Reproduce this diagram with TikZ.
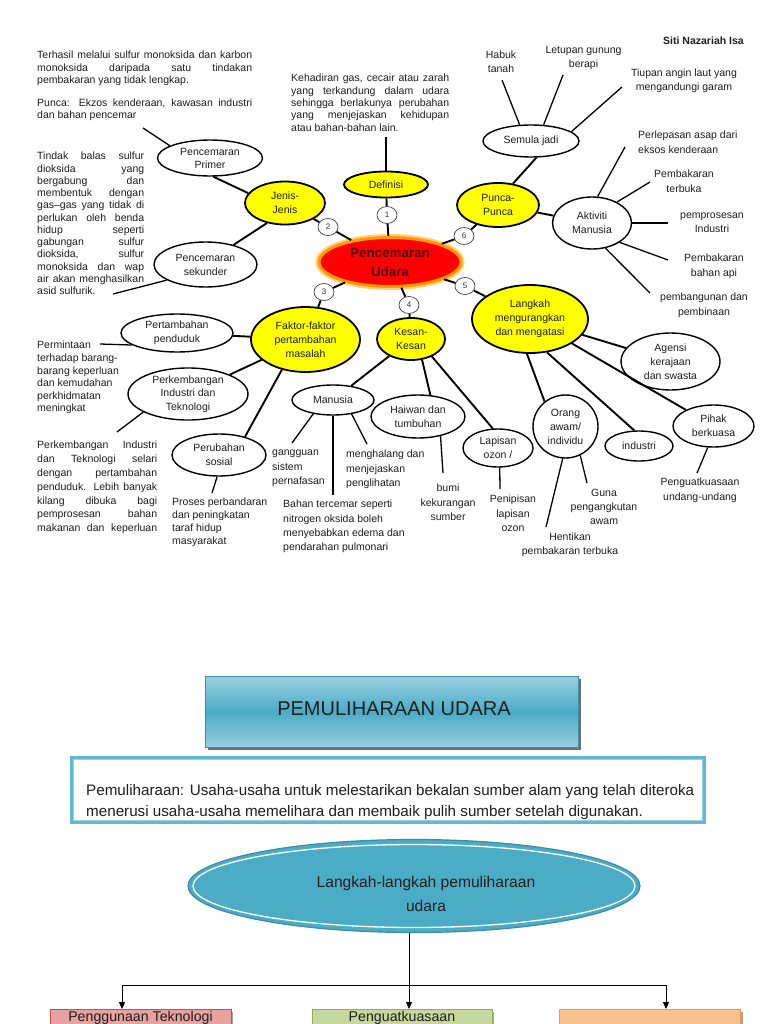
\documentclass[tikz,border=0pt]{standalone}
\usepackage{fontspec}
\setmainfont{Liberation Sans}
\usetikzlibrary{shapes.geometric,arrows.meta,shadows}
\definecolor{ylw}{HTML}{FFFF00}
\definecolor{glow}{HTML}{FFD27A}
\definecolor{orng}{HTML}{FF9A00}
\definecolor{ctext}{HTML}{4A0808}
\definecolor{tealA}{HTML}{4BACC6}
\definecolor{tealL}{HTML}{98D0E0}
\definecolor{tealD}{HTML}{3A8DA6}
\definecolor{tealB}{HTML}{62B8D0}
\definecolor{redF}{HTML}{E8A3A1}
\definecolor{redD}{HTML}{C0504D}
\definecolor{grnF}{HTML}{C5D89D}
\definecolor{grnD}{HTML}{8FB04E}
\definecolor{orF}{HTML}{FAC08F}
\definecolor{orD}{HTML}{F79646}
\definecolor{ink}{HTML}{1E1E1E}
\newcommand{\jl}[2]{\makebox[#1][s]{#2}}
\newcommand{\fl}{\rule{0pt}{7.6pt}}
\newcommand{\flb}{\rule{0pt}{10.8pt}}
\begin{document}
\begin{tikzpicture}[x=1pt,y=-1pt,
 yel/.style={ellipse,draw=black,line width=1.8pt,fill=ylw,inner sep=0pt,align=center,text=ink,font=\fontsize{10.5}{14}\selectfont},
 wht/.style={ellipse,draw=black,line width=1.4pt,fill=white,inner sep=0pt,align=center,text=ink,font=\fontsize{10.5}{14}\selectfont},
 cen/.style={ellipse,fill=red,draw=orng,line width=3pt,preaction={draw=glow,line width=7pt},minimum width=142pt,minimum height=49pt,inner sep=0pt,align=center,text=ctext,font=\bfseries\fontsize{13.4}{19}\selectfont},
 badge/.style={ellipse,draw=black!75,line width=0.7pt,fill=white,minimum width=20pt,minimum height=17pt,inner sep=0pt,font=\fontsize{8}{9}\selectfont,text=black!80},
 conn/.style={line width=1.9pt},
 tconn/.style={line width=1.3pt},
 txt/.style={inner sep=0pt,anchor=north west,align=left,text=ink},
 ctxt/.style={inner sep=0pt,anchor=north,align=center,text=ink},
 arr/.style={line width=0.9pt,-{Triangle[length=7pt,width=6pt]}},
 bbox/.style={inner sep=0pt,minimum height=40pt,anchor=north,line width=1pt,drop shadow={shadow xshift=2pt,shadow yshift=-2pt,fill=black!35,opacity=1}},
 btxt/.style={inner sep=0pt,anchor=north,font=\fontsize{14.2}{17}\selectfont,text=ink},
]
\useasboundingbox (0,0) rectangle (768,1024);
\clip (0,0) rectangle (768,1024);
\fill[white] (0,0) rectangle (768,1024);

% ---------- header ----------
\node[inner sep=0pt,anchor=north,text=ink,font=\bfseries\fontsize{10.5}{12}\selectfont] (author) at (703.5,37) {\fl Siti Nazariah Isa};

% ---------- main nodes ----------
\node[cen] (center) at (390,262) {Pencemaran\\Udara};
\node[yel,minimum width=84pt,minimum height=26pt] (defn) at (386,184.5) {Definisi};
\node[yel,minimum width=80pt,minimum height=43pt] (jenis) at (285,203) {Jenis-\\Jenis};
\node[yel,minimum width=82pt,minimum height=44pt] (punca) at (498,205) {Punca-\\Punca};
\node[yel,minimum width=109pt,minimum height=65pt] (faktor) at (305.5,339.5) {Faktor-faktor\\pertambahan\\masalah};
\node[yel,minimum width=68pt,minimum height=42pt] (kesan) at (411,339) {Kesan-\\Kesan};
\node[yel,minimum width=116pt,minimum height=68pt] (langkah) at (530,319) {Langkah\\mengurangkan\\dan mengatasi};

\node[wht,minimum width=105pt,minimum height=36pt,font=\fontsize{10.5}{13}\selectfont] (primer) at (210,158) {Pencemaran\\Primer};
\node[wht,minimum width=103pt,minimum height=45pt] (sekunder) at (205.5,264.5) {Pencemaran\\sekunder};
\node[wht,minimum width=96pt,minimum height=32pt] (semula) at (531,141) {Semula jadi};
\node[wht,minimum width=79pt,minimum height=52pt] (aktiviti) at (592,223) {Aktiviti\\Manusia};
\node[wht,minimum width=112pt,minimum height=38pt] (pertambahan) at (177,333) {Pertambahan\\penduduk};
\node[wht,minimum width=120pt,minimum height=46pt,font=\fontsize{10.5}{13.5}\selectfont] (perkembangan) at (188,394) {Perkembangan\\Industri dan\\Teknologi};
\node[wht,minimum width=94pt,minimum height=42pt] (perubahan) at (219,455) {Perubahan\\sosial};
\node[wht,minimum width=82pt,minimum height=30pt] (manusia) at (333,400) {Manusia};
\node[wht,minimum width=94pt,minimum height=43pt] (haiwan) at (418,416.5) {Haiwan dan\\tumbuhan};
\node[wht,minimum width=70pt,minimum height=38pt] (lapisan) at (498,448) {Lapisan\\ozon /};
\node[wht,minimum width=65pt,minimum height=63pt] (orang) at (565.5,426.5) {Orang\\awam/\\individu};
\node[wht,minimum width=68pt,minimum height=30pt] (industri) at (639,446) {industri};
\node[wht,minimum width=81pt,minimum height=42pt] (pihak) at (713.5,426) {Pihak\\berkuasa};
\node[wht,minimum width=99pt,minimum height=57pt] (agensi) at (670.5,361.5) {Agensi\\kerajaan\\dan swasta};

\node[badge] (b1) at (387,215) {1};
\node[badge] (b2) at (328,227) {2};
\node[badge] (b3) at (324,292) {3};
\node[badge] (b4) at (409,305) {4};
\node[badge] (b5) at (465,286) {5};
\node[badge] (b6) at (464,236) {6};

% ---------- main connectors ----------
\draw[conn] (defn) -- (b1); \draw[conn] (b1) -- (center);
\draw[conn] (jenis) -- (b2); \draw[conn] (b2) -- (center);
\draw[conn] (faktor) -- (b3); \draw[conn] (b3) -- (center);
\draw[conn] (kesan) -- (b4); \draw[conn] (b4) -- (center);
\draw[conn] (langkah) -- (b5); \draw[conn] (b5) -- (center);
\draw[conn] (punca) -- (b6); \draw[conn] (b6) -- (center);

\draw[conn] (primer.-80) -- (jenis.165);
\draw[conn] (sekunder.35) -- (jenis.228);
\draw[conn] (semula.-72) -- (punca.55);
\draw[conn] (punca) -- (aktiviti);
\draw[conn] (faktor) -- (pertambahan);
\draw[conn] (faktor) -- (perkembangan);
\draw[conn] (faktor.232) -- (perubahan.35);
\draw[conn] (kesan) -- (manusia);
\draw[conn] (kesan.-62) -- (haiwan.60);
\draw[conn] (kesan.-40) -- (lapisan.105);
\draw[conn] (langkah) -- (agensi);
\draw[conn] (langkah.265) -- (orang.130);
\draw[conn] (langkah.-63) -- (industri.107);
\draw[conn] (langkah) -- (pihak);

% ---------- free ends of text connectors ----------
\coordinate (dE) at (386,137);
\coordinate (habukE) at (502,80);
\coordinate (letupanE) at (563,75);
\coordinate (tiupanE) at (622,87);
\coordinate (a1E) at (625,147);
\coordinate (a2E) at (650,182);
\coordinate (a3E) at (668,223);
\coordinate (a4E) at (668,260);
\coordinate (a5E) at (650,293);
\coordinate (p1E) at (143,128);
\coordinate (s1E) at (113,294);
\coordinate (ptE) at (100,344);
\coordinate (pkE) at (117,432);
\coordinate (puE) at (212,493);
\coordinate (m1E) at (292,443);
\coordinate (m2E) at (333,495);
\coordinate (m3E) at (367,444);
\coordinate (hE) at (443,473);
\coordinate (lE) at (500,489);
\coordinate (o1E) at (546,527);
\coordinate (o2E) at (587,483);
\coordinate (pkhE) at (697,473);

\draw[tconn] (defn) -- (dE);
\draw[tconn] (semula.125) -- (habukE);
\draw[tconn] (semula.52) -- (letupanE);
\draw[tconn] (semula.13) -- (tiupanE);
\draw[tconn] (aktiviti.78) -- (a1E);
\draw[tconn] (aktiviti.40) -- (a2E);
\draw[tconn] (aktiviti.east) -- (a3E);
\draw[tconn] (aktiviti.-35) -- (a4E);
\draw[tconn] (aktiviti.-62) -- (a5E);
\draw[tconn] (primer.163) -- (p1E);
\draw[tconn] (sekunder.202) -- (s1E);
\draw[tconn] (pertambahan.195) -- (ptE);
\draw[tconn] (perkembangan.202) -- (pkE);
\draw[tconn] (perubahan.-95) -- (puE);
\draw[tconn] (manusia.215) -- (m1E);
\draw[tconn] (manusia.south) -- (m2E);
\draw[tconn] (manusia.-37) -- (m3E);
\draw[tconn] (haiwan.-41) -- (hE);
\draw[tconn] (lapisan.-85) -- (lE);
\draw[tconn] (orang.-95) -- (o1E);
\draw[tconn] (orang.-63) -- (o2E);
\draw[tconn] (pihak.-105) -- (pkhE);

% ---------- text blocks ----------
\node[txt,font=\fontsize{10.5}{12.5}\selectfont] (t1) at (37,51) {\fl\jl{215pt}{Terhasil melalui sulfur monoksida dan karbon}\\\jl{215pt}{monoksida daripada satu tindakan}\\pembakaran yang tidak lengkap.\\[10pt]\jl{215pt}{Punca: Ekzos kenderaan, kawasan industri}\\dan bahan pencemar};

\node[txt,font=\fontsize{10.5}{12.27}\selectfont] (t2) at (37,152) {\fl\jl{107pt}{Tindak balas sulfur}\\\jl{107pt}{dioksida yang}\\\jl{107pt}{bergabung dan}\\\jl{107pt}{membentuk dengan}\\\jl{107pt}{gas–gas yang tidak di}\\\jl{107pt}{perlukan oleh benda}\\\jl{107pt}{hidup seperti}\\\jl{107pt}{gabungan sulfur}\\\jl{107pt}{dioksida, sulfur}\\\jl{107pt}{monoksida dan wap}\\\jl{107pt}{air akan menghasilkan}\\asid sulfurik.};

\node[txt,font=\fontsize{10.5}{12.3}\selectfont] (t3) at (291,74) {\fl\jl{158pt}{Kehadiran gas, cecair atau zarah}\\\jl{158pt}{yang terkandung dalam udara}\\\jl{158pt}{sehingga berlakunya perubahan}\\\jl{158pt}{yang menjejaskan kehidupan}\\atau bahan-bahan lain.};

\node[txt,font=\fontsize{10.5}{12.6}\selectfont] (t4) at (37,341) {\fl Permintaan\\terhadap barang-\\barang keperluan\\dan kemudahan\\perkhidmatan\\meningkat};

\node[txt,font=\fontsize{10.5}{13.8}\selectfont] (t5) at (37,441) {\fl\jl{120pt}{Perkembangan Industri}\\\jl{120pt}{dan Teknologi selari}\\\jl{120pt}{dengan pertambahan}\\\jl{120pt}{penduduk. Lebih banyak}\\\jl{120pt}{kilang dibuka bagi}\\\jl{120pt}{pemprosesan bahan}\\\jl{120pt}{makanan dan keperluan}};

\node[txt,font=\fontsize{10.5}{12.9}\selectfont] (t6) at (172,498) {\fl Proses perbandaran\\dan peningkatan\\taraf hidup\\masyarakat};
\node[txt,font=\fontsize{10.5}{14.3}\selectfont] (t7) at (272,448) {\fl gangguan\\sistem\\pernafasan};
\node[txt,font=\fontsize{10.5}{14.3}\selectfont] (t8) at (346,450) {\fl menghalang dan\\menjejaskan\\penglihatan};
\node[txt,font=\fontsize{10.5}{14.3}\selectfont] (t9) at (283,500) {\fl Bahan tercemar seperti\\nitrogen oksida boleh\\menyebabkan edema dan\\pendarahan pulmonari};
\node[ctxt,font=\fontsize{10.5}{14.3}\selectfont] (t10) at (448,484) {\fl bumi\\kekurangan\\sumber};
\node[ctxt,font=\fontsize{10.5}{14.5}\selectfont] (t11) at (513,495) {\fl Penipisan\\lapisan\\ozon};
\node[ctxt,font=\fontsize{10.5}{13.7}\selectfont] (t12) at (604,489) {\fl Guna\\pengangkutan\\awam};
\node[ctxt,font=\fontsize{10.5}{14}\selectfont] (t13) at (570,533) {\fl Hentikan\\pembakaran terbuka};
\node[ctxt,font=\fontsize{10.5}{14.5}\selectfont] (t14) at (700,478) {\fl Penguatkuasaan\\undang-undang};
\node[ctxt,font=\fontsize{10.5}{14}\selectfont] (t15) at (501,51) {\fl Habuk\\tanah};
\node[ctxt,font=\fontsize{10.5}{14}\selectfont] (t16) at (583.5,46) {\fl Letupan gunung\\berapi};
\node[ctxt,font=\fontsize{10.5}{14}\selectfont] (t17) at (684,69) {\fl Tiupan angin laut yang\\mengandungi garam};
\node[txt,font=\fontsize{10.5}{14.5}\selectfont] (t18) at (638,131) {\fl Perlepasan asap dari\\eksos kenderaan};
\node[ctxt,font=\fontsize{10.5}{15}\selectfont] (t19) at (684,170) {\fl Pembakaran\\terbuka};
\node[ctxt,font=\fontsize{10.5}{14}\selectfont] (t20) at (712,211) {\fl pemprosesan\\Industri};
\node[ctxt,font=\fontsize{10.5}{14.5}\selectfont] (t21) at (714,254) {\fl Pembakaran\\bahan api};
\node[ctxt,font=\fontsize{10.5}{15}\selectfont] (t22) at (704,293) {\fl pembangunan dan\\pembinaan};

% ---------- lower part ----------
\node[draw=tealD,line width=0.6pt,top color=tealL,bottom color=tealL,middle color=tealA,minimum width=373pt,minimum height=71pt,inner sep=0pt,drop shadow={shadow xshift=2.5pt,shadow yshift=-2.5pt,fill=black!70,opacity=0.8}] (title) at (392,712) {};
\node[inner sep=0pt,font=\fontsize{20}{24}\selectfont,text=ink] (titletext) at (394,709) {PEMULIHARAAN UDARA};

\node[draw=tealB,line width=4.5pt,fill=white,minimum width=632pt,minimum height=64pt,inner sep=0pt] (defbox) at (388,790) {};
\draw[tealL,line width=0.8pt] ([shift={(4pt,-4pt)}]defbox.north west) rectangle ([shift={(-4pt,4pt)}]defbox.south east);
\node[txt,font=\fontsize{15.2}{21}\selectfont] (deftext) at (86,784.5) {\flb Pemuliharaan: Usaha-usaha untuk melestarikan bekalan sumber alam yang telah diteroka\\menerusi usaha-usaha memelihara dan membaik pulih sumber setelah digunakan.};

\node[ellipse,fill=tealA,draw=tealD,line width=1.2pt,minimum width=452pt,minimum height=93pt,inner sep=0pt] (lang2) at (414,886) {};
\draw[white,line width=1.3pt] (lang2.center) ellipse [x radius=221pt,y radius=41.5pt];
\node[inner sep=0pt,align=center,font=\fontsize{15.6}{24}\selectfont,text=ink] (lang2text) at (426,893.5) {Langkah-langkah pemuliharaan\\udara};

\node[bbox,fill=redF,draw=redD,minimum width=181pt] (redbox) at (140.5,1009) {};
\node[bbox,fill=grnF,draw=grnD,minimum width=180pt] (greenbox) at (402,1009) {};
\node[bbox,fill=orF,draw=orD,minimum width=181pt] (orangebox) at (650,1009) {};
\node[btxt] (redtext) at ([yshift=-1.5pt]redbox.north) {\rule{0pt}{10.2pt}Penggunaan Teknologi};
\node[btxt] (greentext) at ([yshift=-1.5pt]greenbox.north) {\rule{0pt}{10.2pt}Penguatkuasaan};

\coordinate (jm) at (409,985);
\coordinate (jl) at (122,985);
\coordinate (jr) at (666,985);
\draw[arr] (lang2.south -| jm) -- (jm |- greenbox.north);
\draw[line width=0.9pt] (jl) -- (jr);
\draw[arr] (jl) -- (jl |- redbox.north);
\draw[arr] (jr) -- (jr |- orangebox.north);
\end{tikzpicture}
\end{document}
